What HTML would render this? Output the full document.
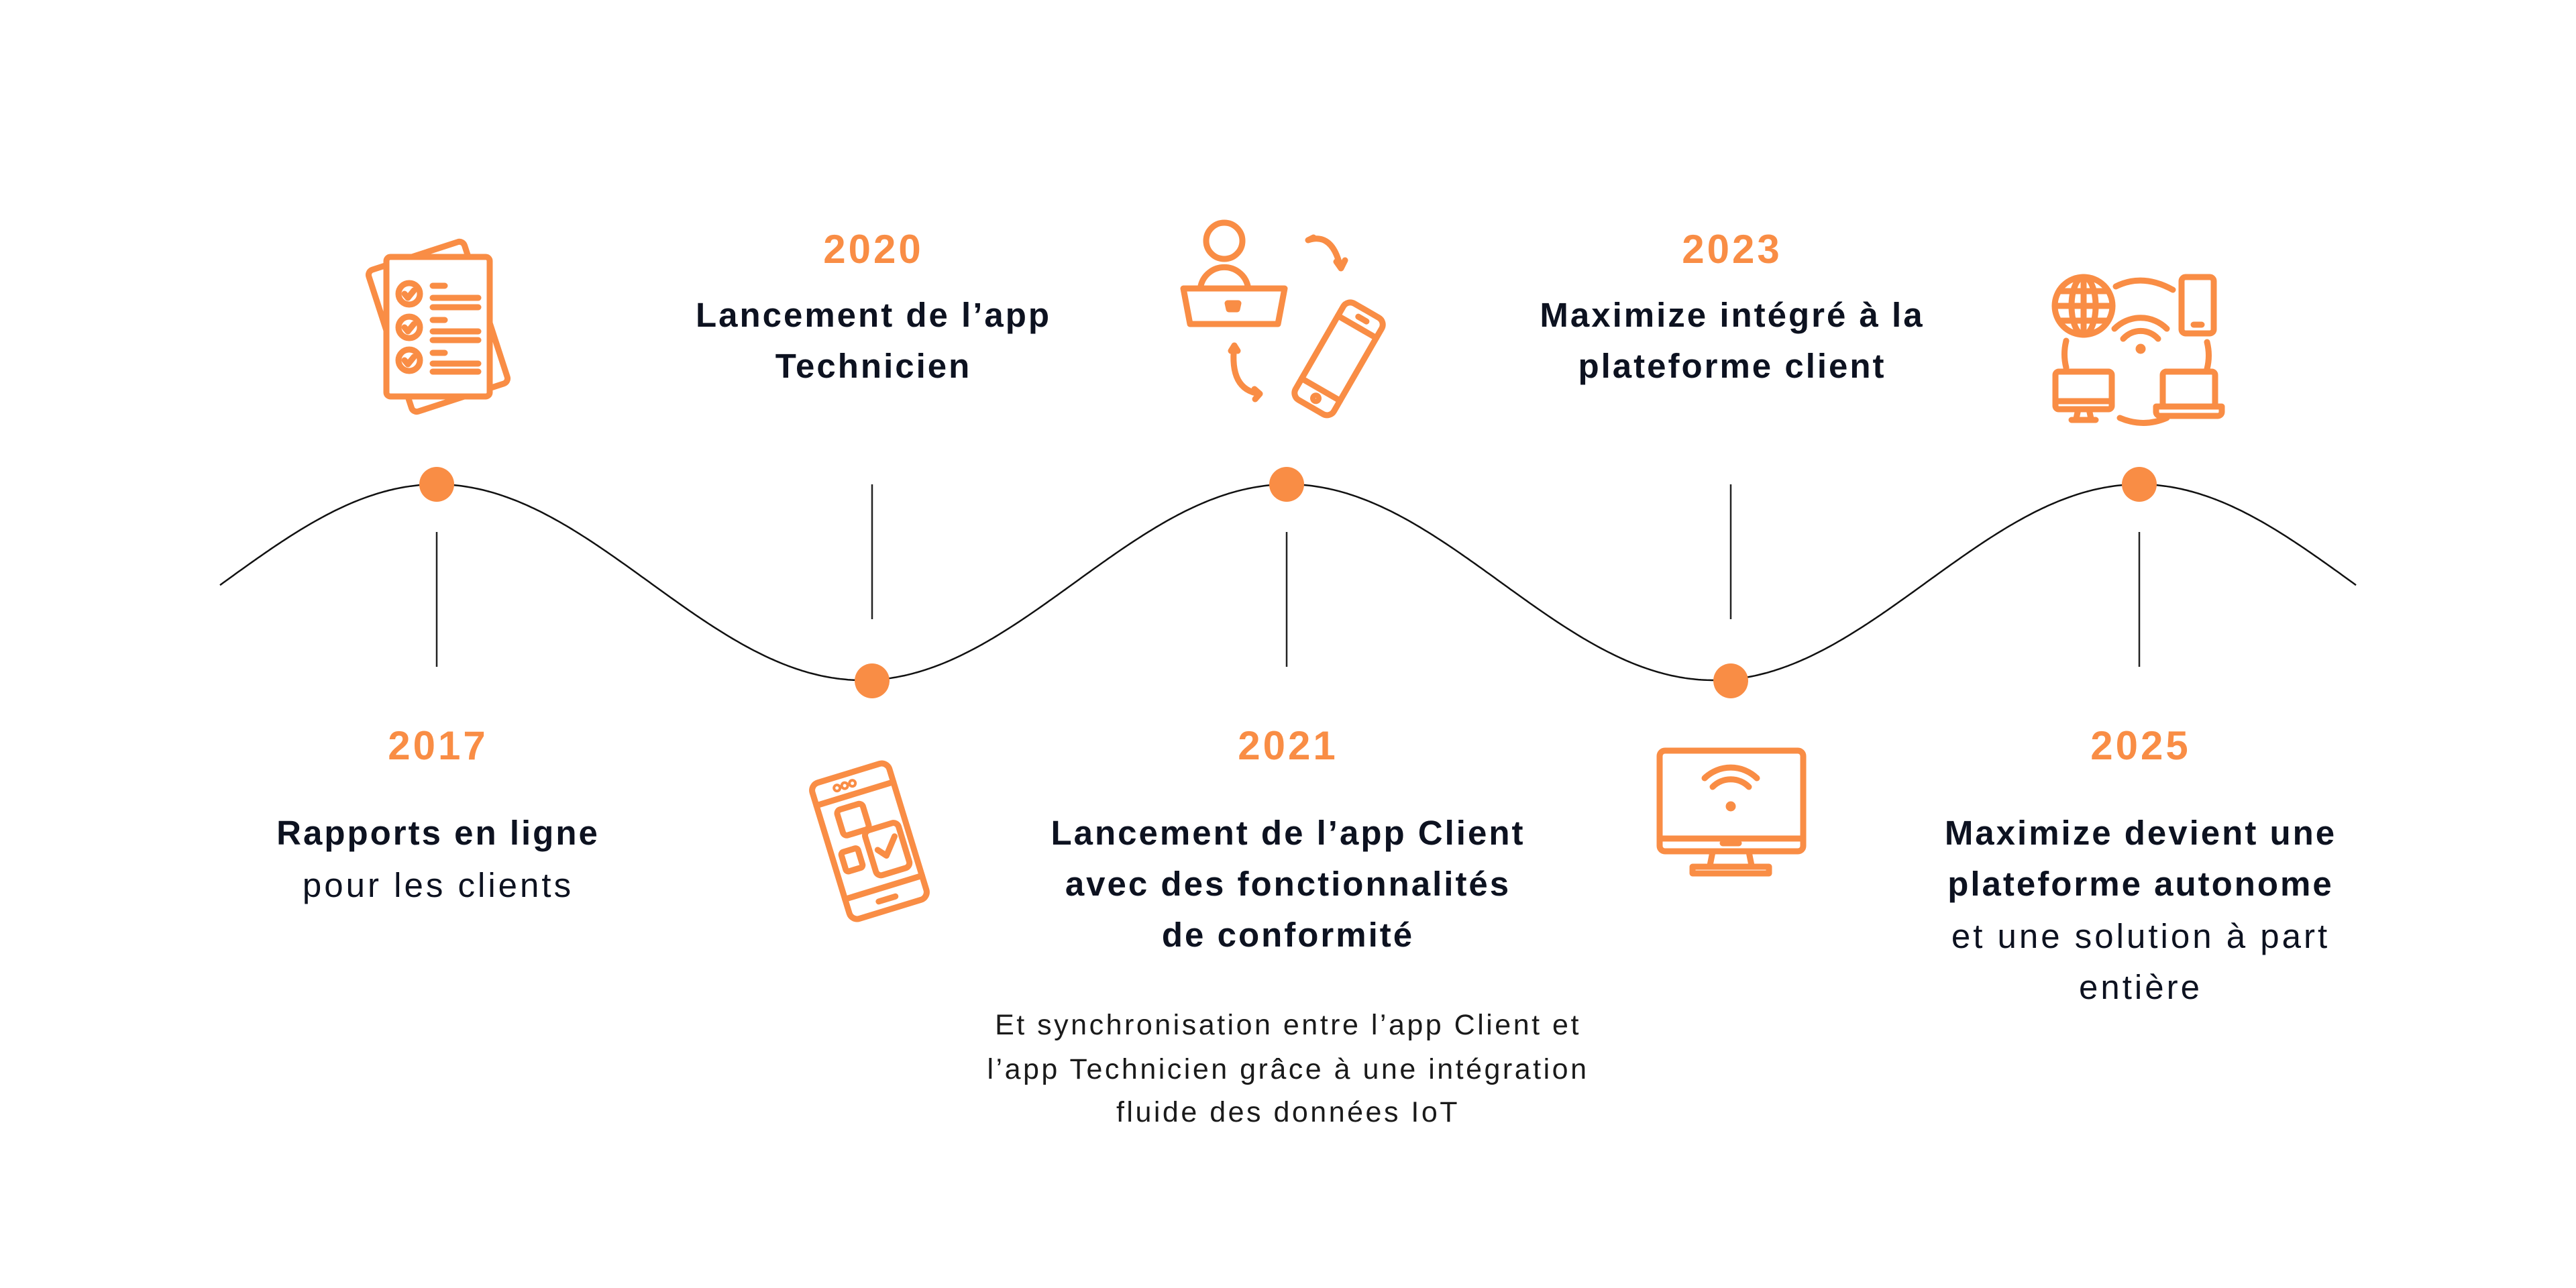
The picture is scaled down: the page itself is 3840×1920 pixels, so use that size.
<!DOCTYPE html>
<html><head><meta charset="utf-8"><style>
html,body{margin:0;padding:0;background:#fff}
body{width:3840px;height:1920px;position:relative;overflow:hidden;font-family:"Liberation Sans",sans-serif}
.t{position:absolute;width:1000px;text-align:center;white-space:nowrap}
.y{color:#F98D45;font-weight:bold;font-size:60px;letter-spacing:4px;height:70px;line-height:70px}
.b{color:#0d1220;font-weight:bold;font-size:51px;letter-spacing:3px;height:76px;line-height:76px}
.r{color:#0d1220;font-size:51px;letter-spacing:4px;height:76px;line-height:76px}
.s{color:#1a1a1a;font-size:43px;letter-spacing:3.5px;height:64px;line-height:64px}
</style></head><body>
<svg width="3840" height="1920" style="position:absolute;left:0;top:0">
<path id="wave" d="" fill="none" stroke="#111" stroke-width="2.5"/>
<g stroke="#222" stroke-width="2.5">
<line x1="651" y1="793" x2="651" y2="994"/>
<line x1="1918" y1="793" x2="1918" y2="994"/>
<line x1="3189" y1="793" x2="3189" y2="994"/>
<line x1="1300" y1="722" x2="1300" y2="923"/>
<line x1="2580" y1="722" x2="2580" y2="923"/>
</g>
<g fill="#F98D45">
<circle cx="651" cy="722" r="26"/><circle cx="1918" cy="722" r="26"/><circle cx="3189" cy="722" r="26"/>
<circle cx="1300" cy="1015" r="26"/><circle cx="2580" cy="1015" r="26"/>
</g>
<g fill="none" stroke="#F98D45" stroke-width="9" stroke-linecap="round" stroke-linejoin="round">
<rect x="578" y="376" width="150" height="222" rx="8" transform="rotate(-18 653 487)"/>
<rect x="576" y="383" width="154" height="208" rx="6" fill="#fff"/>
<circle cx="610" cy="438" r="16"/><circle cx="610" cy="488" r="16"/><circle cx="610" cy="537" r="16"/>
<path d="M603 438l5 6 9-11M603 488l5 6 9-11M603 537l5 6 9-11"/>
<path d="M645 426h18M645 444h68M645 458h68M645 477h18M645 494h68M645 507h68M645 526h18M645 542h68M645 554h68"/>
<g transform="rotate(-17 1296 1254)">
<rect x="1236" y="1148" width="120" height="212" rx="12"/>
<path d="M1236 1180h120M1236 1326h120M1283 1344h26"/>
<circle cx="1273" cy="1164" r="2"/><circle cx="1285" cy="1164" r="2"/><circle cx="1297" cy="1164" r="2"/>
<rect x="1262" y="1196" width="40" height="40" rx="6"/>
<rect x="1292" y="1238" width="52" height="70" rx="8"/>
<rect x="1250" y="1258" width="26" height="30" rx="4"/>
<path d="M1304 1270l10 12 20-24"/>
</g>
<circle cx="1825" cy="359" r="27"/>
<path d="M1790 426a36 36 0 0 1 70 0"/>
<path d="M1764 430h151l-10 53h-131z"/>
<path d="M1830 452h16l-2 9h-12z"/>
<g transform="rotate(30 1996 534)">
<rect x="1963" y="452" width="66" height="166" rx="12"/>
<path d="M1963 480h66M1963 588h66M1990 466h14"/>
<circle cx="1996" cy="603" r="4"/>
</g>
<path d="M1950 358q36 -12 48 40M1992 390l7 10 6-12M1950 358l8 -4"/>
<path d="M1840 515q-8 66 38 72M1870 580l8 7-7 8M1840 515l-5 8M1840 515l5 8"/>
<rect x="2474" y="1119" width="214" height="150" rx="8"/>
<path d="M2474 1250h214M2568 1257h24M2553 1270l-4 20M2607 1270l4 20M2523 1292h114v10h-114z"/>
<path d="M2541 1160a56 56 0 0 1 78 0M2553 1173a38 38 0 0 1 54 0"/>
<circle cx="2580" cy="1202" r="3" fill="#F98D45"/>
<circle cx="3106" cy="456" r="43"/>
<ellipse cx="3106" cy="456" rx="18" ry="43"/>
<path d="M3106 413v86M3063 456h86M3070 434h72M3070 478h72"/>
<rect x="3252" y="413" width="48" height="84" rx="6"/>
<path d="M3270 484h12"/>
<path d="M3154 427q40 -20 85 5M3290 510q5 20 0 40M3080 508q-5 20 0 40M3160 623q35 15 70 0"/>
<path d="M3152 490a55 55 0 0 1 78 0M3165 505a35 35 0 0 1 52 0"/>
<circle cx="3191" cy="520" r="3" fill="#F98D45"/>
<rect x="3064" y="554" width="84" height="56" rx="5"/>
<path d="M3064 598h84M3098 610l-3 14M3114 610l3 14M3088 626h36"/>
<rect x="3224" y="554" width="78" height="52" rx="5"/>
<path d="M3214 606h98v8a6 6 0 0 1-6 6h-86a6 6 0 0 1-6-6z"/>
</g>
</svg>
<script>
var d="";for(var x=328;x<=3512;x+=4){var y=868-146*Math.cos((x-651)/634.5*Math.PI);d+=(x==328?"M":"L")+x+" "+y.toFixed(1);}
document.getElementById("wave").setAttribute("d",d);
</script>
<div class="t y" style="left:802px;top:337px">2020</div>
<div class="t b" style="left:802px;top:432px">Lancement de l’app</div>
<div class="t b" style="left:802px;top:508px">Technicien</div>
<div class="t y" style="left:2082px;top:337px">2023</div>
<div class="t b" style="left:2082px;top:432px">Maximize intégré à la</div>
<div class="t b" style="left:2082px;top:508px">plateforme client</div>
<div class="t y" style="left:153px;top:1077px">2017</div>
<div class="t b" style="left:153px;top:1204px">Rapports en ligne</div>
<div class="t r" style="left:153px;top:1282px">pour les clients</div>
<div class="t y" style="left:1420px;top:1077px">2021</div>
<div class="t b" style="left:1420px;top:1204px">Lancement de l’app Client</div>
<div class="t b" style="left:1420px;top:1280px">avec des fonctionnalités</div>
<div class="t b" style="left:1420px;top:1356px">de conformité</div>
<div class="t s" style="left:1420px;top:1496px">Et synchronisation entre l’app Client et</div>
<div class="t s" style="left:1420px;top:1562px">l’app Technicien grâce à une intégration</div>
<div class="t s" style="left:1420px;top:1626px">fluide des données IoT</div>
<div class="t y" style="left:2691px;top:1077px">2025</div>
<div class="t b" style="left:2691px;top:1204px">Maximize devient une</div>
<div class="t b" style="left:2691px;top:1280px">plateforme autonome</div>
<div class="t r" style="left:2691px;top:1358px">et une solution à part</div>
<div class="t r" style="left:2691px;top:1434px">entière</div>
</body></html>
